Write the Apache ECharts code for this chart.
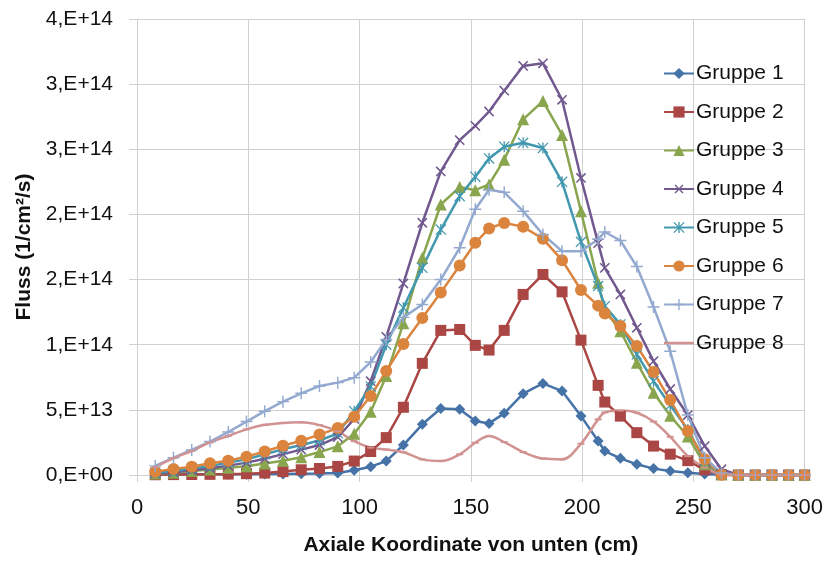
<!DOCTYPE html>
<html>
<head>
<meta charset="utf-8">
<script src="https://cdn.jsdelivr.net/npm/echarts@6/dist/echarts.min.js"></script>
<style>
  html, body { margin: 0; padding: 0; background: #ffffff; }
  #chart { width: 826px; height: 561px; }
</style>
</head>
<body>
<div id="chart"></div>
<script>
// Axial positions of the mesh points (cm from the bottom)
const axialPos = [8.2, 16.4, 24.6, 32.8, 41.0, 49.2, 57.4, 65.6, 73.8, 82.0, 90.2, 97.6, 105.0, 112.0, 119.7,
  128.2, 136.5, 145.0, 152.0, 158.2, 165.0, 173.5, 182.4, 191.0, 199.5, 207.2, 210.2, 217.2, 224.6, 232.1,
  239.6, 247.5, 255.1, 262.6, 270.2, 277.8, 285.3, 292.8, 300.0];

// Group flux values, in units of 1e13 1/cm²/s
const FLUX_UNIT = 1e13;
const gruppe1 = [0.05,0.05,0.05,0.05,0.06,0.06,0.07,0.08,0.10,0.12,0.16,0.36,0.64,1.07,2.30,3.89,5.10,5.04,4.14,3.96,4.73,6.24,7.03,6.44,4.52,2.61,1.84,1.28,0.82,0.49,0.31,0.18,0.07,0.02,0,0,0,0,0];
const gruppe2 = [0.02,0.03,0.04,0.05,0.07,0.10,0.15,0.26,0.40,0.50,0.66,1.07,1.80,2.87,5.20,8.57,11.10,11.17,9.95,9.59,11.10,13.86,15.39,14.06,10.35,6.88,5.60,4.52,3.25,2.22,1.60,1.10,0.40,0.02,0,0,0,0,0];
const gruppe3 = [0.12,0.18,0.30,0.42,0.55,0.68,0.88,1.10,1.37,1.76,2.20,3.17,4.85,7.60,11.65,16.67,20.76,22.10,21.86,22.30,24.20,27.30,28.70,26.10,20.25,14.75,12.70,11.04,8.62,6.32,4.55,2.95,0.82,0.05,0,0,0,0,0];
const gruppe4 = [0.12,0.22,0.36,0.52,0.72,0.95,1.25,1.60,1.95,2.30,2.90,4.30,7.20,10.60,14.70,19.36,23.30,25.70,26.80,27.90,29.50,31.40,31.60,28.80,22.80,17.80,15.90,13.86,11.30,8.74,6.60,4.60,2.22,0.44,0,0,0,0,0];
const gruppe5 = [0.18,0.30,0.49,0.69,0.95,1.20,1.59,1.97,2.30,2.65,3.20,4.90,6.80,10.00,12.84,15.90,18.84,21.40,22.90,24.30,25.20,25.50,25.10,22.50,17.90,14.50,12.96,11.56,9.26,7.20,5.35,3.50,1.07,0.03,0,0,0,0,0];
const gruppe6 = [0.25,0.47,0.63,0.90,1.10,1.41,1.80,2.25,2.63,3.10,3.60,4.47,6.06,7.98,10.05,12.05,14.00,16.08,17.82,18.92,19.35,19.05,18.13,16.49,14.20,13.00,12.40,11.43,9.90,7.90,5.75,3.37,1.20,0.02,0,0,0,0,0];
const gruppe7 = [0.70,1.33,1.92,2.57,3.30,4.10,4.90,5.63,6.27,6.83,7.09,7.47,8.67,10.40,12.10,13.09,15.00,17.44,20.40,21.90,21.70,20.25,18.46,17.18,17.18,18.10,18.65,18.00,16.00,12.90,9.50,4.60,1.33,0.15,0,0,0,0,0];
const gruppe8 = [0.60,1.30,1.84,2.50,3.00,3.50,3.85,4.00,4.04,3.83,3.35,2.60,2.10,1.95,1.75,1.20,1.07,1.59,2.48,2.99,2.53,1.76,1.26,1.20,2.40,4.27,4.80,4.95,4.78,4.10,2.93,1.45,0.57,0.05,0,0,0,0,0];

const seriesNames = ['Gruppe 1', 'Gruppe 2', 'Gruppe 3', 'Gruppe 4', 'Gruppe 5', 'Gruppe 6', 'Gruppe 7', 'Gruppe 8'];

// Axis tick labels
const xTicks = [0, 50, 100, 150, 200, 250, 300];
const yTickLabels = ['0,E+00', '5,E+13', '1,E+14', '2,E+14', '2,E+14', '3,E+14', '3,E+14', '4,E+14'];
const Y_STEP = 5e13;

// Marker shapes drawn as filled outlines
const PLUS = 'path://M4.4,0 H5.6 V4.4 H10 V5.6 H5.6 V10 H4.4 V5.6 H0 V4.4 H4.4 Z';
const STAR = 'path://M0.8,0 L10,9.2 L9.2,10 L0,0.8 Z M9.2,0 L10,0.8 L0.8,10 L0,9.2 Z M4.4,0 H5.6 V10 H4.4 Z';
const DASH = 'path://M0,0 H10 V2.5 H0 Z';
const LEGEND_LINE = 'path://M0,0 H30 V2.5 H0 Z';

const styles = [
  { color: '#4572A7', symbol: 'diamond', size: 11 },
  { color: '#AA4643', symbol: 'rect', size: 11 },
  { color: '#89A54E', symbol: 'triangle', size: 12 },
  { color: '#71588F', symbol: PLUS, size: 13, rotate: 45 },
  { color: '#4198AF', symbol: STAR, size: 11 },
  { color: '#DB843D', symbol: 'circle', size: 12 },
  { color: '#93A9CF', symbol: PLUS, size: 12 },
  { color: '#D19392', symbol: DASH, size: [7, 2], smooth: 0.35, legendIcon: LEGEND_LINE }
];

const values = [gruppe1, gruppe2, gruppe3, gruppe4, gruppe5, gruppe6, gruppe7, gruppe8];

const series = values.map((vals, i) => ({
  name: seriesNames[i],
  type: 'line',
  data: vals.map((v, k) => [axialPos[k], v * FLUX_UNIT]),
  symbol: styles[i].symbol,
  symbolSize: styles[i].size,
  symbolRotate: styles[i].rotate || 0,
  smooth: styles[i].smooth || false,
  showSymbol: true,
  clip: false,
  lineStyle: { color: styles[i].color, width: 2.5 },
  itemStyle: { color: styles[i].color }
}));

const legendData = seriesNames.map((name, i) =>
  styles[i].legendIcon ? { name: name, icon: styles[i].legendIcon } : { name: name });

const FONT = 'Liberation Sans, Arial, sans-serif';
const gridColor = '#d0d0d0';

const chart = echarts.init(document.getElementById('chart'), null, { renderer: 'canvas' });
chart.setOption({
  animation: false,
  backgroundColor: '#ffffff',
  grid: { left: 137, right: 19, top: 19, bottom: 86, containLabel: false },
  legend: {
    orient: 'vertical',
    left: 658,
    top: 58,
    itemWidth: 30,
    itemHeight: 14,
    itemGap: 17.5,
    symbolKeepAspect: true,
    data: legendData,
    textStyle: { fontFamily: FONT, fontSize: 21, color: '#111111', padding: [0, 0, 0, -3] }
  },
  xAxis: {
    type: 'value',
    min: 0,
    max: 300,
    interval: 50,
    name: 'Axiale Koordinate von unten (cm)',
    nameLocation: 'middle',
    nameGap: 60,
    nameTextStyle: { fontFamily: FONT, fontSize: 21, fontWeight: 'bold', color: '#111111' },
    axisLine: { show: true, lineStyle: { color: gridColor, width: 1 } },
    axisTick: { show: true, length: 7, lineStyle: { color: gridColor } },
    splitLine: { show: true, lineStyle: { color: gridColor, width: 1 } },
    axisLabel: {
      fontFamily: FONT, fontSize: 22, color: '#111111', margin: 22,
      formatter: v => (xTicks.indexOf(v) >= 0 ? String(v) : '')
    }
  },
  yAxis: {
    type: 'value',
    min: 0,
    max: 3.5e14,
    interval: Y_STEP,
    name: 'Fluss (1/cm²/s)',
    nameLocation: 'middle',
    nameGap: 98,
    nameRotate: 90,
    nameTextStyle: { fontFamily: FONT, fontSize: 21, fontWeight: 'bold', color: '#111111' },
    axisLine: { show: true, lineStyle: { color: gridColor, width: 1 } },
    axisTick: { show: true, length: 8, lineStyle: { color: gridColor } },
    splitLine: { show: true, lineStyle: { color: gridColor, width: 1 } },
    axisLabel: {
      fontFamily: FONT, fontSize: 21, color: '#111111', margin: 24,
      formatter: v => yTickLabels[Math.round(v / Y_STEP)] || ''
    }
  },
  series: series
});
</script>
</body>
</html>
